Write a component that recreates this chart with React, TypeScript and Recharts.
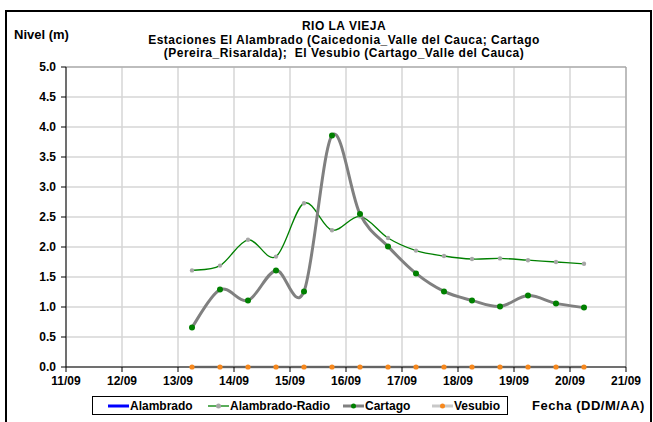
import React from 'react'
import { LineChart, Line, XAxis, YAxis, CartesianGrid, ReferenceLine } from 'recharts'

// fechas (día de septiembre, 06:00 y 18:00 aprox.)
const dias = [13.25, 13.75, 14.25, 14.75, 15.25, 15.75, 16.25, 16.75, 17.25, 17.75, 18.25, 18.75, 19.25, 19.75, 20.25]
const alambrado: (number | null)[] = [null, null, null, null, null, null, null, null, null, null, null, null, null, null, null]
const alambradoRadio = [1.61, 1.69, 2.12, 1.84, 2.73, 2.28, 2.51, 2.15, 1.94, 1.85, 1.8, 1.81, 1.78, 1.75, 1.72]
const cartago = [0.66, 1.29, 1.11, 1.61, 1.26, 3.86, 2.55, 2.01, 1.56, 1.26, 1.11, 1.01, 1.19, 1.06, 0.99]
const vesubio = [0, 0, 0, 0, 0, 0, 0, 0, 0, 0, 0, 0, 0, 0, 0]

const xTicks = [11, 12, 13, 14, 15, 16, 17, 18, 19, 20, 21]
const yTicks = [0, 0.5, 1, 1.5, 2, 2.5, 3, 3.5, 4, 4.5, 5]

const data = dias.map((d, i) => ({
  dia: d,
  alambrado: alambrado[i],
  alambradoRadio: alambradoRadio[i],
  cartago: cartago[i],
  vesubio: vesubio[i],
}))

const FONT = '"Liberation Sans", Arial, sans-serif'

// suavizado tipo Excel (Catmull-Rom)
const excelCurve = (context: any) => {
  let pts: number[][] = []
  return {
    areaStart() {},
    areaEnd() {},
    lineStart() {
      pts = []
    },
    point(x: number, y: number) {
      pts.push([+x, +y])
    },
    lineEnd() {
      if (!pts.length) return
      context.moveTo(pts[0][0], pts[0][1])
      for (let i = 0; i < pts.length - 1; i++) {
        const p0 = pts[i - 1] || pts[i]
        const p1 = pts[i]
        const p2 = pts[i + 1]
        const p3 = pts[i + 2] || p2
        context.bezierCurveTo(
          p1[0] + (p2[0] - p0[0]) / 6,
          p1[1] + (p2[1] - p0[1]) / 6,
          p2[0] - (p3[0] - p1[0]) / 6,
          p2[1] - (p3[1] - p1[1]) / 6,
          p2[0],
          p2[1]
        )
      }
    },
  }
}

const fmtDia = (d: number) => `${d}/09`

const tickStyle = { fontSize: 12, fontWeight: 'bold', fill: '#000', fontFamily: FONT }

function LegendItem({ x, color, dot, label, thick }: { x: number; color: string; dot?: string; label: string; thick: number }) {
  return (
    <div style={{ position: 'absolute', left: x, top: 0, height: 17, display: 'flex', alignItems: 'center' }}>
      <svg width={21} height={10}>
        <line x1={0} y1={5} x2={21} y2={5} stroke={color} strokeWidth={thick} />
        {dot && <circle cx={10.5} cy={5} r={2.5} fill={dot} />}
      </svg>
      <span style={{ marginLeft: 1 }}>{label}</span>
    </div>
  )
}

export default function App() {
  return (
    <div style={{ position: 'absolute', left: 0, top: 0, width: 653, height: 422, background: '#fff', overflow: 'hidden', fontFamily: FONT }}>
      <div style={{ position: 'absolute', left: 5, top: 10, width: 647, height: 430, border: '2px solid #000', boxSizing: 'border-box' }} />

      <div style={{ position: 'absolute', left: 94, width: 500, top: 20, textAlign: 'center', fontSize: 12, fontWeight: 'bold', lineHeight: '13.5px', letterSpacing: 0.5 }}>
        RIO LA VIEJA
        <br />
        Estaciones El Alambrado (Caicedonia_Valle del Cauca; Cartago
        <br />
        (Pereira_Risaralda);&nbsp; El Vesubio (Cartago_Valle del Cauca)
      </div>
      <div style={{ position: 'absolute', left: 14, top: 28, fontSize: 13, fontWeight: 'bold', lineHeight: '13px' }}>Nivel (m)</div>

      <LineChart width={653} height={422} data={data} margin={{ top: 67, right: 27, bottom: 0, left: 26 }} style={{ position: 'absolute', left: 0, top: 0 }}>
        <CartesianGrid stroke="#d6d6d6" strokeWidth={1.5} />
        <XAxis
          dataKey="dia"
          type="number"
          domain={[11, 21]}
          ticks={xTicks}
          tickFormatter={fmtDia}
          height={55}
          axisLine={{ stroke: '#000' }}
          tickLine={{ stroke: '#000' }}
          tickSize={5}
          tickMargin={4}
          tick={tickStyle}
          interval={0}
        />
        <YAxis
          type="number"
          domain={[0, 5]}
          ticks={yTicks}
          tickFormatter={(v: number) => v.toFixed(1)}
          width={40}
          axisLine={{ stroke: '#000' }}
          tickLine={{ stroke: '#000' }}
          tickSize={5}
          tickMargin={5}
          tick={tickStyle}
          interval={0}
        />
        <ReferenceLine y={5} stroke="#9a9a9a" />
        <ReferenceLine x={21} stroke="#9a9a9a" />
        <Line dataKey="alambrado" type={excelCurve as any} stroke="#0000ff" strokeWidth={3} dot={false} isAnimationActive={false} />
        <Line
          dataKey="alambradoRadio"
          type={excelCurve as any}
          stroke="#008000"
          strokeWidth={1.3}
          dot={{ r: 2.2, fill: '#a6a6a6', stroke: 'none' }}
          isAnimationActive={false}
        />
        <Line
          dataKey="cartago"
          type={excelCurve as any}
          stroke="#808080"
          strokeWidth={3}
          dot={{ r: 3, fill: '#008000', stroke: 'none' }}
          isAnimationActive={false}
        />
        <Line
          dataKey="vesubio"
          type={excelCurve as any}
          stroke="#c8c8c8"
          strokeWidth={3}
          dot={{ r: 2.6, fill: '#f7881d', stroke: 'none' }}
          isAnimationActive={false}
        />
      </LineChart>

      <div
        style={{
          position: 'absolute',
          left: 92,
          top: 396,
          width: 416,
          height: 19,
          border: '1px solid #000',
          boxSizing: 'border-box',
          fontSize: 12,
          fontWeight: 'bold',
        }}
      >
        <LegendItem x={15} color="#0000ff" label="Alambrado" thick={3} />
        <LegendItem x={115} color="#008000" dot="#a6a6a6" label="Alambrado-Radio" thick={1.3} />
        <LegendItem x={250} color="#808080" dot="#008000" label="Cartago" thick={3} />
        <LegendItem x={339} color="#c8c8c8" dot="#f7881d" label="Vesubio" thick={3} />
      </div>
      <div style={{ position: 'absolute', left: 532, top: 399, fontSize: 13, fontWeight: 'bold', lineHeight: '13px', letterSpacing: 0.5 }}>Fecha (DD/M/AA)</div>
    </div>
  )
}
